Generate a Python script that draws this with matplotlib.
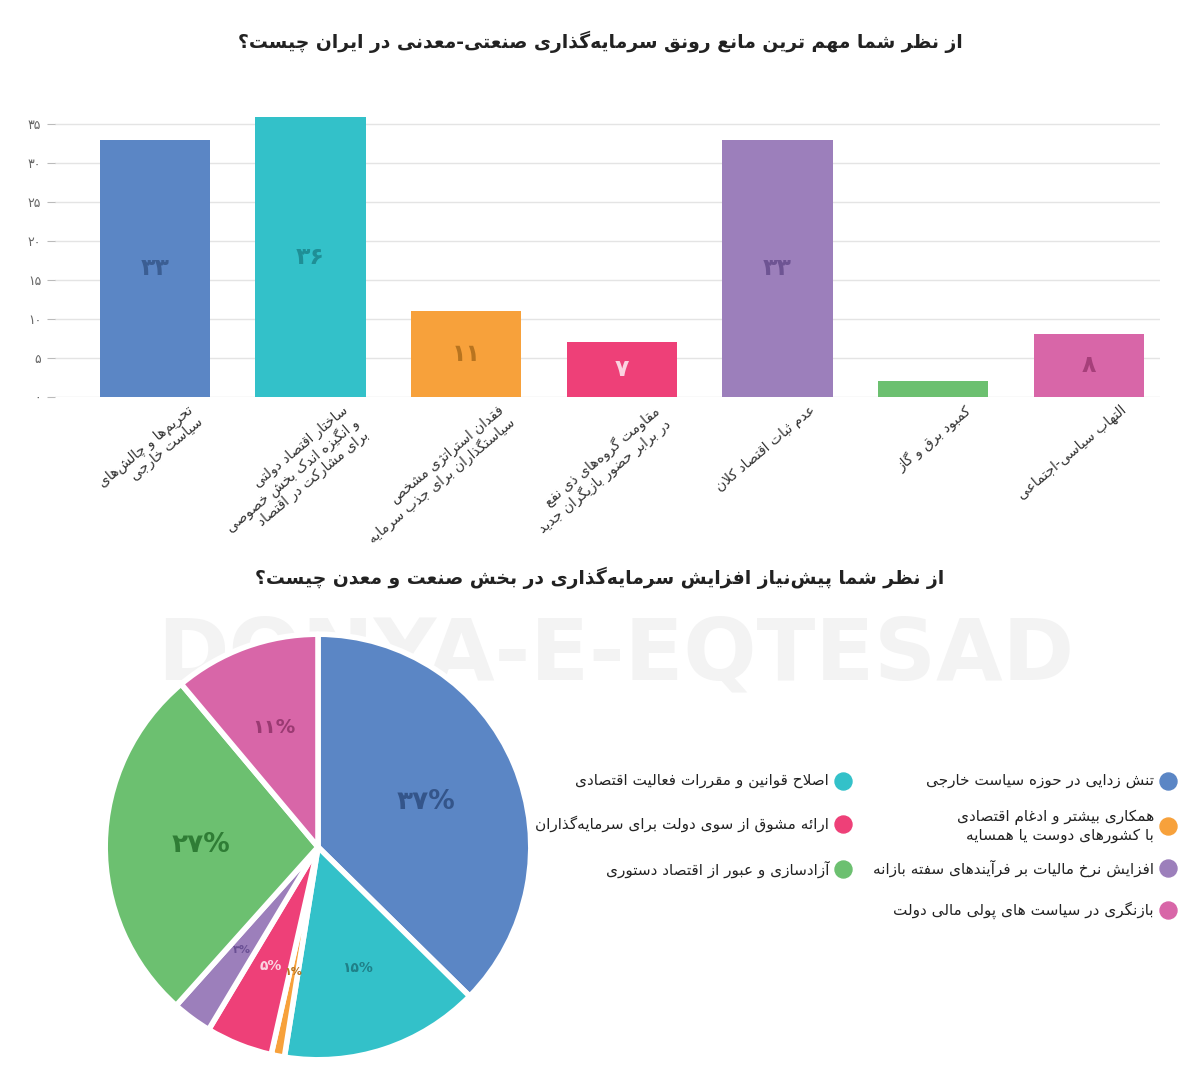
import math
import matplotlib
matplotlib.use("Agg")
import matplotlib.pyplot as plt

# ---- data ----
bar_labels = [
    "تحریم‌ها و چالش‌های\nسیاست خارجی",
    "ساختار اقتصاد دولتی\nو انگیزه اندک بخش خصوصی\nبرای مشارکت در اقتصاد",
    "فقدان استراتژی مشخص\nسیاستگذاران برای جذب سرمایه",
    "مقاومت گروه‌های ذی نفع\nدر برابر حضور بازیگران جدید",
    "عدم ثبات اقتصاد کلان",
    "کمبود برق و گاز",
    "التهاب سیاسی-اجتماعی",
]
bar_values = [33, 36, 11, 7, 33, 2, 8]
bar_colors = ["#5b86c5", "#33c1c9", "#f7a13b", "#ee4078", "#9c7fbb", "#6cc070", "#d866a8"]
bar_text_colors = ["#3b5e93", "#1f8f96", "#b8741f", "#fbd3e0", "#6e5493", None, "#a63f7a"]
y_ticks = [0, 5, 10, 15, 20, 25, 30, 35]

pie_labels = [
    "تنش زدایی در حوزه سیاست خارجی",
    "اصلاح قوانین و مقررات فعالیت اقتصادی",
    "همکاری بیشتر و ادغام اقتصادی\nبا کشورهای دوست یا همسایه",
    "ارائه مشوق از سوی دولت برای سرمایه‌گذاران",
    "افزایش نرخ مالیات بر فرآیندهای سفته بازانه",
    "آزادسازی و عبور از اقتصاد دستوری",
    "بازنگری در سیاست های پولی مالی دولت",
]
pie_values = [37, 15, 1, 5, 3, 27, 11]
pie_colors = ["#5b86c5", "#33c1c9", "#f7a13b", "#ee4078", "#9c7fbb", "#6cc070", "#d866a8"]
pie_text_colors = ["#34558a", "#1f8088", "#b8741f", "#fbd3e0", "#6a4f94", "#2f7d35", "#9a3a72"]
pie_text_sizes = [19, 10, 8, 10, 8, 19, 14]

title1 = "از نظر شما مهم ترین مانع رونق سرمایه‌گذاری صنعتی-معدنی در ایران چیست؟"
title2 = "از نظر شما پیش‌نیاز افزایش سرمایه‌گذاری در بخش صنعت و معدن چیست؟"

# ---- minimal Persian shaping (matplotlib does no shaping/bidi) ----
FORMS = {
    'ا': (0xFE8D, 0xFE8E), 'آ': (0xFE81, 0xFE82), 'أ': (0xFE83, 0xFE84),
    'د': (0xFEA9, 0xFEAA), 'ذ': (0xFEAB, 0xFEAC), 'ر': (0xFEAD, 0xFEAE),
    'ز': (0xFEAF, 0xFEB0), 'ژ': (0xFB8A, 0xFB8B), 'و': (0xFEED, 0xFEEE),
    'ب': (0xFE8F, 0xFE90, 0xFE91, 0xFE92), 'پ': (0xFB56, 0xFB57, 0xFB58, 0xFB59),
    'ت': (0xFE95, 0xFE96, 0xFE97, 0xFE98), 'ث': (0xFE99, 0xFE9A, 0xFE9B, 0xFE9C),
    'ج': (0xFE9D, 0xFE9E, 0xFE9F, 0xFEA0), 'چ': (0xFB7A, 0xFB7B, 0xFB7C, 0xFB7D),
    'ح': (0xFEA1, 0xFEA2, 0xFEA3, 0xFEA4), 'خ': (0xFEA5, 0xFEA6, 0xFEA7, 0xFEA8),
    'س': (0xFEB1, 0xFEB2, 0xFEB3, 0xFEB4), 'ش': (0xFEB5, 0xFEB6, 0xFEB7, 0xFEB8),
    'ص': (0xFEB9, 0xFEBA, 0xFEBB, 0xFEBC), 'ض': (0xFEBD, 0xFEBE, 0xFEBF, 0xFEC0),
    'ط': (0xFEC1, 0xFEC2, 0xFEC3, 0xFEC4), 'ظ': (0xFEC5, 0xFEC6, 0xFEC7, 0xFEC8),
    'ع': (0xFEC9, 0xFECA, 0xFECB, 0xFECC), 'غ': (0xFECD, 0xFECE, 0xFECF, 0xFED0),
    'ف': (0xFED1, 0xFED2, 0xFED3, 0xFED4), 'ق': (0xFED5, 0xFED6, 0xFED7, 0xFED8),
    'ک': (0xFB8E, 0xFB8F, 0xFB90, 0xFB91), 'گ': (0xFB92, 0xFB93, 0xFB94, 0xFB95),
    'ل': (0xFEDD, 0xFEDE, 0xFEDF, 0xFEE0), 'م': (0xFEE1, 0xFEE2, 0xFEE3, 0xFEE4),
    'ن': (0xFEE5, 0xFEE6, 0xFEE7, 0xFEE8), 'ه': (0xFEE9, 0xFEEA, 0xFEEB, 0xFEEC),
    'ی': (0xFBFC, 0xFBFD, 0xFBFE, 0xFBFF), 'ئ': (0xFE89, 0xFE8A, 0xFE8B, 0xFE8C),
}
LAMALEF = {'ا': (0xFEFB, 0xFEFC), 'آ': (0xFEF5, 0xFEF6), 'أ': (0xFEF7, 0xFEF8)}
LTR = set("0123456789%۰۱۲۳۴۵۶۷۸۹")


def dual(c):
    return c in FORMS and len(FORMS[c]) == 4


def shape_line(s):
    out = []
    i = 0
    while i < len(s):
        c = s[i]
        p = s[i - 1] if i > 0 else ''
        n = s[i + 1] if i + 1 < len(s) else ''
        if c == '\u200c':
            i += 1
            continue
        if c not in FORMS:
            out.append(c)
            i += 1
            continue
        jp = dual(p)
        if c == 'ل' and n in LAMALEF:
            out.append(chr(LAMALEF[n][1 if jp else 0]))
            i += 2
            continue
        jn = dual(c) and n in FORMS
        f = FORMS[c]
        if jp and jn:
            g = f[3]
        elif jp:
            g = f[1]
        elif jn:
            g = f[2]
        else:
            g = f[0]
        out.append(chr(g))
        i += 1
    out = out[::-1]
    # put LTR runs back in order
    res, run = [], []
    for ch in out:
        if ch in LTR:
            run.append(ch)
        else:
            res.extend(run[::-1]); run = []
            res.append(ch)
    res.extend(run[::-1])
    return "".join(res)


def fa(s):
    return "\n".join(shape_line(l) for l in s.split("\n"))


def fa_num(v):
    return str(v).translate(str.maketrans("0123456789", "۰۱۲۳۴۵۶۷۸۹"))


plt.rcParams["font.family"] = "DejaVu Sans"
fig = plt.figure(figsize=(12, 10.66), dpi=100)

# watermark, behind everything
fig.text(0.513, 0.385, "DONYA-E-EQTESAD", fontsize=62, fontweight="bold",
         color="#f3f3f3", ha="center", va="center", zorder=-5)

# ---- bar chart ----
ax = fig.add_axes([0.046, 0.628, 0.921, 0.264])
x = list(range(len(bar_values)))
ax.bar(x, bar_values, width=0.71, color=bar_colors, zorder=2)
for i, v in enumerate(bar_values):
    if bar_text_colors[i]:
        ax.text(i, v / 2, fa_num(v), ha="center", va="center", fontsize=17,
                fontweight="bold", color=bar_text_colors[i], zorder=3)
    ax.text(i + 0.2, -0.8, fa(bar_labels[i]), ha="right", va="top", rotation=40,
            rotation_mode="anchor", fontsize=10, color="#333333", linespacing=1.1)
ax.set_xlim(-0.64, 6.46)
ax.set_ylim(0, 36.2)
ax.set_yticks(y_ticks)
ax.set_yticklabels([fa_num(t) for t in y_ticks], color="#666666", fontsize=9)
ax.set_xticks([])
ax.tick_params(axis="y", length=6, color="#bbbbbb", pad=4)
ax.grid(axis="y", color="#e4e4e4", linewidth=1, zorder=0)
for s in ax.spines.values():
    s.set_visible(False)
ax.set_facecolor("none")

fig.text(0.5, 0.961, fa(title1), ha="center", va="center", fontsize=13.5, fontweight="bold",
         color="#222222")
fig.text(0.5, 0.458, fa(title2), ha="center", va="center", fontsize=13.5, fontweight="bold",
         color="#222222")

# ---- pie chart ----
size = 532
pax = fig.add_axes([(318 - size / 2) / 1200, 1 - (847 + size / 2) / 1066, size / 1200, size / 1066])
wedges, _ = pax.pie(pie_values, colors=pie_colors, startangle=90, counterclock=False,
                    wedgeprops=dict(edgecolor="white", linewidth=4, joinstyle="round"))
tot = sum(pie_values)
ang = 90.0
for i, v in enumerate(pie_values):
    mid = ang - v / tot * 180
    ang -= v / tot * 360
    r = 0.55 if v in (37, 27) else 0.6
    pax.text(r * math.cos(math.radians(mid)), r * math.sin(math.radians(mid)),
             fa_num(v) + "%", ha="center", va="center", fontsize=pie_text_sizes[i],
             fontweight="bold", color=pie_text_colors[i])
pax.set_aspect("equal")

# ---- legend (right to left, two columns) ----
lax = fig.add_axes([0, 0, 1, 1], facecolor="none")
lax.set_xlim(0, 1200)
lax.set_ylim(1066, 0)
lax.axis("off")
legend_pos = [(1168, 781), (843, 781), (1168, 826), (843, 824), (1168, 868), (843, 869), (1168, 910)]
for i, (bx, by) in enumerate(legend_pos):
    lax.scatter([bx], [by], s=150, color=pie_colors[i])
    lax.text(bx - 14, by, fa(pie_labels[i]), ha="right", va="center", fontsize=11,
             color="#222222", linespacing=1.2)

fig.savefig("out.png", dpi=100)
